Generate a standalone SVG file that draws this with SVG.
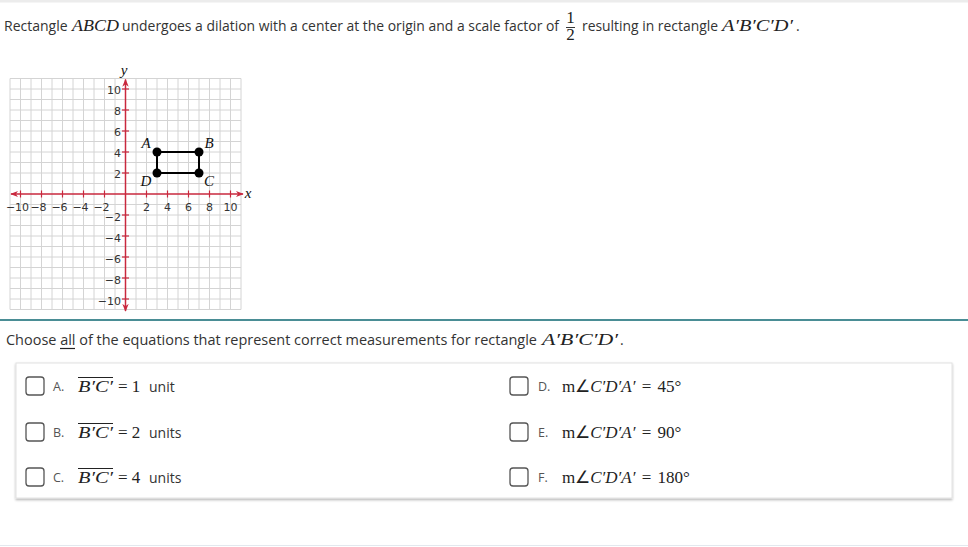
<svg xmlns="http://www.w3.org/2000/svg" width="968" height="547" viewBox="0 0 968 547">
<defs>
<style>
.body{font-family:"Open Sans","Liberation Sans",sans-serif;font-size:14px;fill:#333}
.math{font-family:"Liberation Serif","Times New Roman",serif;font-size:17px;fill:#222}
.mi{font-style:italic}
.tick{font-family:"DejaVu Sans",Verdana,sans-serif;font-size:11px;fill:#333}
.grid line{stroke:#d4d4d4;stroke-width:1}
.axis{stroke:#c9283e;stroke-width:1.5;fill:none}
.tk{stroke:#c9283e;stroke-width:1.2}
.cb{fill:#fff;stroke:#555;stroke-width:1.3}
.lbl{font-family:"Open Sans","Liberation Sans",sans-serif;font-size:12.5px;fill:#555}
.pt{fill:#000}
.plbl{font-family:"Liberation Serif","Times New Roman",serif;font-style:italic;font-size:15px;fill:#111}
</style>
<marker id="ah" viewBox="0 0 10 10" refX="9" refY="5" markerWidth="8" markerHeight="8" orient="auto-start-reverse" markerUnits="userSpaceOnUse">
<path d="M0,1 L10,5 L0,9 L3,5 Z" fill="#c9283e"/>
</marker>
<filter id="sh" x="-5%" y="-10%" width="110%" height="130%">
<feDropShadow dx="0" dy="1.5" stdDeviation="1.2" flood-color="#000" flood-opacity="0.3"/>
</filter>
</defs>
<rect x="0" y="0" width="968" height="547" fill="#fff"/>
<rect x="0" y="0" width="968" height="2.5" fill="#ececec"/>

<!-- header -->
<g id="header">
<text class="body" x="4" y="31">Rectangle</text>
<text class="math mi" x="72" y="31" textLength="47" lengthAdjust="spacingAndGlyphs">ABCD</text>
<text class="body" x="122" y="31" textLength="437" lengthAdjust="spacingAndGlyphs">undergoes a dilation with a center at the origin and a scale factor of</text>
<text class="math" x="570.5" y="23" font-size="10.5" text-anchor="middle">1</text>
<line x1="566" y1="27.5" x2="575" y2="27.5" stroke="#222" stroke-width="0.9"/>
<text class="math" x="570.5" y="40" font-size="10.5" text-anchor="middle">2</text>
<text class="body" x="582" y="31" textLength="136" lengthAdjust="spacingAndGlyphs">resulting in rectangle</text>
<text class="math mi" x="722" y="31" textLength="71" lengthAdjust="spacingAndGlyphs">A′B′C′D′</text>
<text class="body" x="796" y="31">.</text>
</g>

<!-- graph -->
<g id="graph">
<rect x="10" y="78.5" width="231" height="231" fill="#fff"/>
<g class="grid">
<line x1="10" y1="78.5" x2="10" y2="309.5"/><line x1="20.5" y1="78.5" x2="20.5" y2="309.5"/><line x1="31" y1="78.5" x2="31" y2="309.5"/><line x1="41.5" y1="78.5" x2="41.5" y2="309.5"/><line x1="52" y1="78.5" x2="52" y2="309.5"/><line x1="62.5" y1="78.5" x2="62.5" y2="309.5"/><line x1="73" y1="78.5" x2="73" y2="309.5"/><line x1="83.5" y1="78.5" x2="83.5" y2="309.5"/><line x1="94" y1="78.5" x2="94" y2="309.5"/><line x1="104.5" y1="78.5" x2="104.5" y2="309.5"/><line x1="115" y1="78.5" x2="115" y2="309.5"/><line x1="136" y1="78.5" x2="136" y2="309.5"/><line x1="146.5" y1="78.5" x2="146.5" y2="309.5"/><line x1="157" y1="78.5" x2="157" y2="309.5"/><line x1="167.5" y1="78.5" x2="167.5" y2="309.5"/><line x1="178" y1="78.5" x2="178" y2="309.5"/><line x1="188.5" y1="78.5" x2="188.5" y2="309.5"/><line x1="199" y1="78.5" x2="199" y2="309.5"/><line x1="209.5" y1="78.5" x2="209.5" y2="309.5"/><line x1="220" y1="78.5" x2="220" y2="309.5"/><line x1="230.5" y1="78.5" x2="230.5" y2="309.5"/><line x1="241" y1="78.5" x2="241" y2="309.5"/>
<line x1="10" y1="78.5" x2="241" y2="78.5"/><line x1="10" y1="89" x2="241" y2="89"/><line x1="10" y1="99.5" x2="241" y2="99.5"/><line x1="10" y1="110" x2="241" y2="110"/><line x1="10" y1="120.5" x2="241" y2="120.5"/><line x1="10" y1="131" x2="241" y2="131"/><line x1="10" y1="141.5" x2="241" y2="141.5"/><line x1="10" y1="152" x2="241" y2="152"/><line x1="10" y1="162.5" x2="241" y2="162.5"/><line x1="10" y1="173" x2="241" y2="173"/><line x1="10" y1="183.5" x2="241" y2="183.5"/><line x1="10" y1="204.5" x2="241" y2="204.5"/><line x1="10" y1="215" x2="241" y2="215"/><line x1="10" y1="225.5" x2="241" y2="225.5"/><line x1="10" y1="236" x2="241" y2="236"/><line x1="10" y1="246.5" x2="241" y2="246.5"/><line x1="10" y1="257" x2="241" y2="257"/><line x1="10" y1="267.5" x2="241" y2="267.5"/><line x1="10" y1="278" x2="241" y2="278"/><line x1="10" y1="288.5" x2="241" y2="288.5"/><line x1="10" y1="299" x2="241" y2="299"/><line x1="10" y1="309.5" x2="241" y2="309.5"/>
</g>
<line class="axis" x1="11" y1="194" x2="243" y2="194" marker-start="url(#ah)" marker-end="url(#ah)"/>
<line class="axis" x1="125.5" y1="79.5" x2="125.5" y2="311" marker-start="url(#ah)" marker-end="url(#ah)"/>
<g>
<line class="tk" x1="20.5" y1="190.5" x2="20.5" y2="197.5"/><line class="tk" x1="41.5" y1="190.5" x2="41.5" y2="197.5"/><line class="tk" x1="62.5" y1="190.5" x2="62.5" y2="197.5"/><line class="tk" x1="83.5" y1="190.5" x2="83.5" y2="197.5"/><line class="tk" x1="104.5" y1="190.5" x2="104.5" y2="197.5"/><line class="tk" x1="146.5" y1="190.5" x2="146.5" y2="197.5"/><line class="tk" x1="167.5" y1="190.5" x2="167.5" y2="197.5"/><line class="tk" x1="188.5" y1="190.5" x2="188.5" y2="197.5"/><line class="tk" x1="209.5" y1="190.5" x2="209.5" y2="197.5"/><line class="tk" x1="230.5" y1="190.5" x2="230.5" y2="197.5"/>
<line class="tk" x1="122" y1="89" x2="129" y2="89"/><line class="tk" x1="122" y1="110" x2="129" y2="110"/><line class="tk" x1="122" y1="131" x2="129" y2="131"/><line class="tk" x1="122" y1="152" x2="129" y2="152"/><line class="tk" x1="122" y1="173" x2="129" y2="173"/><line class="tk" x1="122" y1="215" x2="129" y2="215"/><line class="tk" x1="122" y1="236" x2="129" y2="236"/><line class="tk" x1="122" y1="257" x2="129" y2="257"/><line class="tk" x1="122" y1="278" x2="129" y2="278"/><line class="tk" x1="122" y1="299" x2="129" y2="299"/>
</g>
<g class="tick" text-anchor="middle">
<text x="17.5" y="210.5">−10</text><text x="38.5" y="210.5">−8</text><text x="59.5" y="210.5">−6</text><text x="80.5" y="210.5">−4</text><text x="101.5" y="210.5">−2</text>
<text x="146.5" y="210.5">2</text><text x="167.5" y="210.5">4</text><text x="188.5" y="210.5">6</text><text x="209.5" y="210.5">8</text><text x="230.5" y="210.5">10</text>
</g>
<g class="tick" text-anchor="end">
<text x="121" y="93.5">10</text><text x="121" y="114.5">8</text><text x="121" y="135.5">6</text><text x="121" y="156.5">4</text><text x="121" y="177.5">2</text>
<text x="121" y="220.5">−2</text><text x="121" y="241.5">−4</text><text x="121" y="262.5">−6</text><text x="121" y="283.5">−8</text><text x="121" y="304.5">−10</text>
</g>
<text class="plbl" x="124" y="75" text-anchor="middle">y</text>
<text class="plbl" x="248" y="197.5" text-anchor="middle">x</text>
</g>

<g id="rectABCD">
<polygon points="157,152 199,152 199,173 157,173" fill="none" stroke="#000" stroke-width="2"/>
</g>
<g id="A"><circle class="pt" cx="157" cy="152" r="4.5"/><text class="plbl" x="146" y="148" text-anchor="middle">A</text></g>
<g id="B"><circle class="pt" cx="199" cy="152" r="4.5"/><text class="plbl" x="209" y="148" text-anchor="middle">B</text></g>
<g id="C"><circle class="pt" cx="199" cy="173" r="4.5"/><text class="plbl" x="209" y="186" text-anchor="middle">C</text></g>
<g id="D"><circle class="pt" cx="157" cy="173" r="4.5"/><text class="plbl" x="146" y="186" text-anchor="middle">D</text></g>

<rect x="0" y="319" width="968" height="2" fill="#4a8d95"/>

<!-- question -->
<g id="question">
<text class="body" x="6" y="345" textLength="531" lengthAdjust="spacingAndGlyphs">Choose all of the equations that represent correct measurements for rectangle</text>
<line x1="60" y1="348.5" x2="75" y2="348.5" stroke="#222" stroke-width="1.2"/>
<text class="math mi" x="542" y="345" textLength="76" lengthAdjust="spacingAndGlyphs">A′B′C′D′</text>
<text class="body" x="620" y="345">.</text>
</g>

<rect x="16" y="363" width="936" height="135" fill="#fff" stroke="#e2e2e2" stroke-width="1" filter="url(#sh)"/>

<g id="optA">
<rect class="cb" x="26" y="377" width="18" height="18" rx="3"/>
<text class="lbl" x="53" y="391">A.</text>
<text class="math mi" x="78" y="392" textLength="35" lengthAdjust="spacingAndGlyphs">B′C′</text>
<line x1="78" y1="377.5" x2="113" y2="377.5" stroke="#222" stroke-width="1"/>
<text class="math" x="118" y="392">= 1</text>
<text class="body" x="149" y="392">unit</text>
</g>
<g id="optB">
<rect class="cb" x="26" y="423" width="18" height="18" rx="3"/>
<text class="lbl" x="53" y="437">B.</text>
<text class="math mi" x="78" y="438" textLength="35" lengthAdjust="spacingAndGlyphs">B′C′</text>
<line x1="78" y1="423.5" x2="113" y2="423.5" stroke="#222" stroke-width="1"/>
<text class="math" x="118" y="438">= 2</text>
<text class="body" x="149" y="438">units</text>
</g>
<g id="optC">
<rect class="cb" x="26" y="468" width="18" height="18" rx="3"/>
<text class="lbl" x="53" y="482">C.</text>
<text class="math mi" x="78" y="483" textLength="35" lengthAdjust="spacingAndGlyphs">B′C′</text>
<line x1="78" y1="468.5" x2="113" y2="468.5" stroke="#222" stroke-width="1"/>
<text class="math" x="118" y="483">= 4</text>
<text class="body" x="149" y="483">units</text>
</g>
<g id="optD">
<rect class="cb" x="510" y="377" width="18" height="18" rx="3"/>
<text class="lbl" x="538" y="391">D.</text>
<text class="math" x="562" y="392" word-spacing="2">m∠<tspan class="mi">C′D′A′</tspan> = 45°</text>
</g>
<g id="optE">
<rect class="cb" x="510" y="423" width="18" height="18" rx="3"/>
<text class="lbl" x="538" y="437">E.</text>
<text class="math" x="562" y="438" word-spacing="2">m∠<tspan class="mi">C′D′A′</tspan> = 90°</text>
</g>
<g id="optF">
<rect class="cb" x="510" y="468" width="18" height="18" rx="3"/>
<text class="lbl" x="538" y="482">F.</text>
<text class="math" x="562" y="483" word-spacing="2">m∠<tspan class="mi">C′D′A′</tspan> = 180°</text>
</g>

<rect x="0" y="545" width="968" height="1" fill="#e3e8ee"/>
</svg>
